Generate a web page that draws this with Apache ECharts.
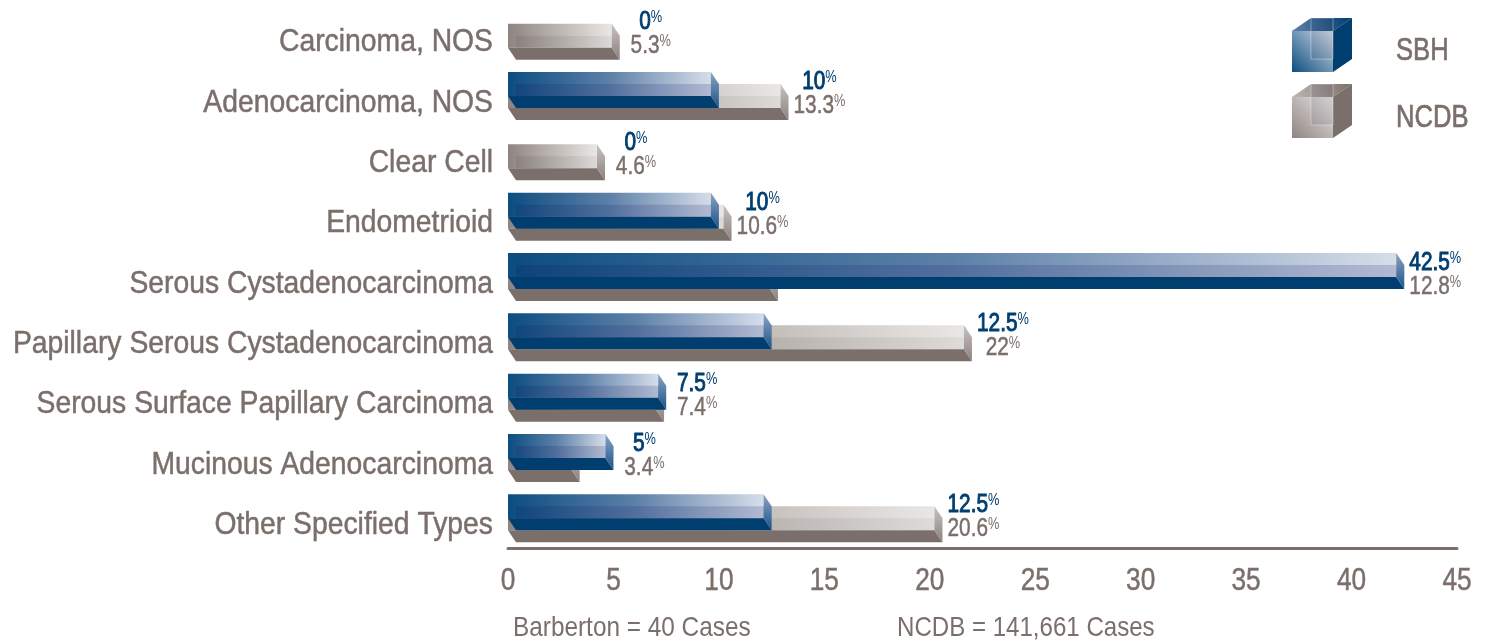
<!DOCTYPE html>
<html>
<head>
<meta charset="utf-8">
<title></title>
<style>
	html,body{margin:0;padding:0;background:#fff;}
	#chart{width:1489px;height:642px;}
</style>
</head>
<body>
<div id="chart"></div>
<script src="https://cdn.jsdelivr.net/npm/echarts@6/dist/echarts.min.js"></script>
<script>
var categories = ['Carcinoma, NOS','Adenocarcinoma, NOS','Clear Cell','Endometrioid','Serous Cystadenocarcinoma','Papillary Serous Cystadenocarcinoma','Serous Surface Papillary Carcinoma','Mucinous Adenocarcinoma','Other Specified Types'];
var sbh = [0,10,0,10,42.5,12.5,7.5,5,12.5];
var ncdb = [5.3,13.3,4.6,10.6,12.8,22,7.4,3.4,20.6];
var xTicks = [0,5,10,15,20,25,30,35,40,45];

var FONT = '"Liberation Sans",sans-serif';
var BLUE = '#003e70', GRAY = '#7b6f6b';
var DX = 8, DY = 12;

var blueSkin = {
	body: ['#0b4d80','#5d80a8','#d6dde9'],
	inner: ['rgba(20,30,100,.22)','rgba(40,50,120,.22)','rgba(70,80,140,.25)'],
	side: ['#8ba3c4','#1a5488'],
	base: BLUE
};
var graySkin = {
	body: ['#8e8481','#bdb7b3','#e9e7e5'],
	inner: ['rgba(90,80,75,.18)','rgba(90,80,75,.12)','rgba(90,80,75,.08)'],
	side: ['#c8c3bf','#8b817d'],
	base: GRAY
};

function grad(cols){
	var stops = cols.map(function(c,i){ return {offset:i/(cols.length-1),color:c}; });
	return new echarts.graphic.LinearGradient(0,0,1,0,stops);
}

// glass box, front bottom right corner sits on the value
function boxItem(skin, rowOffset){
	return function(params, api){
		var v = api.value(0);
		if(!v) return null;
		var p = api.coord([v, api.value(1)]);
		var x0 = api.coord([0, api.value(1)])[0];
		var xe = p[0], top = p[1] + rowOffset;
		var y1 = top + DY, y2 = top + DY*2, y3 = top + DY*3;
		return {type:'group',children:[
			{type:'rect',shape:{x:x0,y:top,width:xe-DX-x0,height:DY*2},style:{fill:grad(skin.body)}},
			{type:'rect',shape:{x:x0+DX,y:y1,width:xe-x0-DX,height:DY},style:{fill:grad(skin.inner)}},
			{type:'polygon',shape:{points:[[x0,y2],[xe-DX,y2],[xe,y3],[x0+DX,y3]]},style:{fill:skin.base}},
			{type:'polygon',shape:{points:[[xe-DX,top],[xe,y1],[xe,y3],[xe-DX,y2]]},style:{fill:new echarts.graphic.LinearGradient(0,0,0,1,[{offset:0,color:skin.side[0]},{offset:1,color:skin.side[1]}])}}
		]};
	};
}

function rich(color, line){
	return {
		v:{fontFamily:FONT,fontSize:26,fill:color,stroke:color,lineWidth:line,lineHeight:26},
		p:{fontFamily:FONT,fontSize:16,fill:color,lineHeight:26,padding:[0,0,8,0]}
	};
}

function valueText(cx, y, val, color, line){
	return {type:'text',x:cx,y:y,scaleX:0.8,style:{x:0,y:0,text:'{v|'+val+'}{p|%}',align:'center',verticalAlign:'middle',rich:rich(color,line)}};
}

function labelItem(params, api){
	var i = api.value(1);
	var p = api.coord([Math.max(api.value(0), api.value(2)), i]);
	var cx = p[0] + 31, cy = p[1];
	return {type:'group',children:[
		valueText(cx, cy-14, api.value(0), BLUE, 1),
		valueText(cx, cy+10, api.value(2), GRAY, 0.5)
	]};
}

// the reference type is condensed and no narrow face is installed, so labels are squeezed
function categoryItem(params, api){
	var p = api.coord([0, api.value(1)]);
	return {type:'text',x:p[0]-15,y:p[1]+7,scaleX:0.885,style:{x:0,y:0,text:categories[api.value(1)],align:'right',verticalAlign:'middle',fontFamily:FONT,fontSize:32,fill:GRAY,stroke:GRAY,lineWidth:0.5}};
}

function tickItem(params, api){
	var p = api.coord([api.value(0), categories.length-1]);
	return {type:'text',x:p[0],y:p[1]+63,scaleX:0.82,style:{x:0,y:0,text:String(api.value(0)),align:'center',verticalAlign:'middle',fontFamily:FONT,fontSize:32,fill:GRAY,stroke:GRAY,lineWidth:0.5}};
}

function squeezed(x, y, str, size, sx, line){
	return {type:'text',x:x,y:y,scaleX:sx,style:{x:0,y:0,text:str,fontFamily:FONT,fontSize:size,fill:GRAY,stroke:GRAY,lineWidth:line,verticalAlign:'middle'}};
}

function cube(x, y, skin, name, textY){
	var s = 41, dx = 19, dy = 13;
	return [
		{type:'rect',shape:{x:x,y:y+dy,width:s,height:s},style:{fill:new echarts.graphic.LinearGradient(0,1,1,0,[{offset:0,color:skin.body[0]},{offset:1,color:skin.body[2]}])}},
		{type:'polygon',shape:{points:[[x,y+dy],[x+dx,y],[x+dx+s,y],[x+s,y+dy]]},style:{fill:new echarts.graphic.LinearGradient(0,1,1,0,[{offset:0,color:skin.body[1]},{offset:1,color:skin.base}])}},
		{type:'polygon',shape:{points:[[x+s,y+dy],[x+s+dx,y],[x+s+dx,y+s],[x+s,y+s+dy]]},style:{fill:skin.base}},
		{type:'rect',shape:{x:x+dx,y:y,width:s-dx,height:s},style:{fill:'rgba(60,60,90,.12)',stroke:'rgba(255,255,255,.35)',lineWidth:1}},
		squeezed(1396, textY, name, 32, 0.8, 0.7)
	];
}

var chart = echarts.init(document.getElementById('chart'));
chart.setOption({
	animation:false,
	grid:{left:508,right:32,top:5.5,height:543,outerBoundsMode:'none'},
	xAxis:{
		type:'value',min:0,max:45,interval:5,
		axisLine:{show:true,onZero:false,lineStyle:{color:GRAY,width:3}},
		axisTick:{show:false},
		splitLine:{show:false},
		axisLabel:{show:false}
	},
	yAxis:{
		type:'category',data:categories,inverse:true,
		axisLine:{show:false},axisTick:{show:false},
		axisLabel:{show:false}
	},
	graphic:cube(1292,18,blueSkin,'SBH',51).concat(cube(1292,84,graySkin,'NCDB',118)).concat([
		squeezed(513, 628, 'Barberton = 40 Cases', 28, 0.87, 0),
		squeezed(897, 628, 'NCDB = 141,661 Cases', 28, 0.86, 0)
	]),
	series:[
		{name:'NCDB',type:'custom',clip:false,renderItem:boxItem(graySkin,-12),encode:{x:0,y:1},
			data:ncdb.map(function(v,i){return [v,i];})},
		{name:'SBH',type:'custom',clip:false,renderItem:boxItem(blueSkin,-24),encode:{x:0,y:1},
			data:sbh.map(function(v,i){return [v,i];})},
		{name:'labels',type:'custom',clip:false,renderItem:labelItem,encode:{x:0,y:1},
			data:sbh.map(function(v,i){return [v,i,ncdb[i]];})},
		{name:'categories',type:'custom',clip:false,renderItem:categoryItem,encode:{x:0,y:1},
			data:categories.map(function(c,i){return [0,i];})},
		{name:'ticks',type:'custom',clip:false,renderItem:tickItem,encode:{x:0},
			data:xTicks.map(function(t){return [t];})}
	]
});
</script>
</body>
</html>
